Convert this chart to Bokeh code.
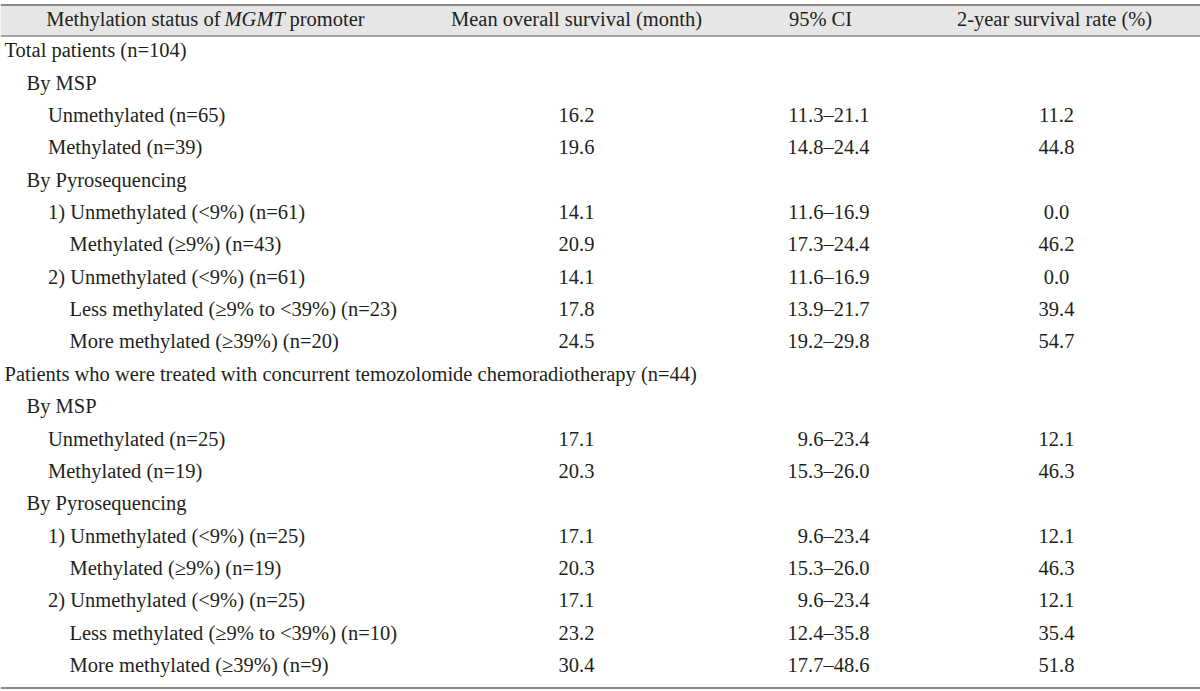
from bokeh.plotting import figure
from bokeh.models import ColumnDataSource, Range1d
from bokeh.core.properties import value
from bokeh.embed import file_html
from bokeh.resources import INLINE

# ---------------- data ----------------
labels = [
    "Total patients (n=104)",
    "By MSP",
    "Unmethylated (n=65)",
    "Methylated (n=39)",
    "By Pyrosequencing",
    "1) Unmethylated (<9%) (n=61)",
    "Methylated (\u22659%) (n=43)",
    "2) Unmethylated (<9%) (n=61)",
    "Less methylated (\u22659% to <39%) (n=23)",
    "More methylated (\u226539%) (n=20)",
    "Patients who were treated with concurrent temozolomide chemoradiotherapy (n=44)",
    "By MSP",
    "Unmethylated (n=25)",
    "Methylated (n=19)",
    "By Pyrosequencing",
    "1) Unmethylated (<9%) (n=25)",
    "Methylated (\u22659%) (n=19)",
    "2) Unmethylated (<9%) (n=25)",
    "Less methylated (\u22659% to <39%) (n=10)",
    "More methylated (\u226539%) (n=9)",
]
levels = [0, 1, 2, 2, 1, 2, 3, 2, 3, 3, 0, 1, 2, 2, 1, 2, 3, 2, 3, 3]
mean_os = [None, None, 16.2, 19.6, None, 14.1, 20.9, 14.1, 17.8, 24.5,
           None, None, 17.1, 20.3, None, 17.1, 20.3, 17.1, 23.2, 30.4]
ci_low = [None, None, 11.3, 14.8, None, 11.6, 17.3, 11.6, 13.9, 19.2,
          None, None, 9.6, 15.3, None, 9.6, 15.3, 9.6, 12.4, 17.7]
ci_high = [None, None, 21.1, 24.4, None, 16.9, 24.4, 16.9, 21.7, 29.8,
           None, None, 23.4, 26.0, None, 23.4, 26.0, 23.4, 35.8, 48.6]
surv_2y = [None, None, 11.2, 44.8, None, 0.0, 46.2, 0.0, 39.4, 54.7,
           None, None, 12.1, 46.3, None, 12.1, 46.3, 12.1, 35.4, 51.8]
headers = ["Mean overall survival (month)", "95% CI", "2-year survival rate (%)"]
header_first = ["Methylation status of", "MGMT", "promoter"]

# ---------------- layout ----------------
W, H = 1200, 691
FONT = value("Liberation Serif")
FS = "20.5px"
TXT = "#231f20"
LINE = "#8a8a8a"

# data units == page pixels
p = figure(width=W, height=H, output_backend="svg", toolbar_location=None,
           x_range=Range1d(0, W), y_range=Range1d(H, 0),
           min_border=0)
p.axis.visible = False
p.grid.visible = False
p.outline_line_color = None
p.background_fill_color = "white"

# header band and rules
p.quad(left=[0], right=[1200], top=[5], bottom=[35.5], fill_color="#e6e6e7", line_color=None)
p.segment(x0=[0], y0=[4.5], x1=[1200], y1=[4.5], line_color=LINE, line_width=2.2)
p.segment(x0=[0], y0=[35.5], x1=[1200], y1=[35.5], line_color=LINE, line_width=1.3)
p.segment(x0=[0], y0=[687.5], x1=[1200], y1=[687.5], line_color=LINE, line_width=2.2)

hy = 18.5
common = dict(text_font=FONT, text_font_size=FS, text_color=TXT, text_baseline="middle")
p.text(x=[220], y=[hy], text=[header_first[0]], text_align="right", **common)
p.text(x=[224], y=[hy], text=[header_first[1]], text_align="left", text_font_style="italic", **common)
p.text(x=[289], y=[hy], text=[header_first[2]], text_align="left", **common)
p.text(x=[576, 820, 1054], y=[hy] * 3, text=headers, text_align="center", **common)

row0, dy = 49.8, 32.35
indent = [4, 26, 47.5, 69]
ys = [row0 + i * dy for i in range(len(labels))]
src = ColumnDataSource(dict(x=[indent[l] for l in levels], y=ys, t=labels))
p.text(x="x", y="y", text="t", source=src, text_align="left", **common)

def fmt(v):
    return "" if v is None else f"{v:.1f}"

vals = ColumnDataSource(dict(
    y=ys,
    m=[fmt(v) for v in mean_os],
    ci=["" if a is None else f"{a:.1f}\u2013{b:.1f}" for a, b in zip(ci_low, ci_high)],
    s=[fmt(v) for v in surv_2y],
))
p.text(x=576, y="y", text="m", source=vals, text_align="center", **common)
p.text(x=869, y="y", text="ci", source=vals, text_align="right", **common)
p.text(x=1056, y="y", text="s", source=vals, text_align="center", **common)

open("out.html", "w").write(file_html(p, INLINE))
